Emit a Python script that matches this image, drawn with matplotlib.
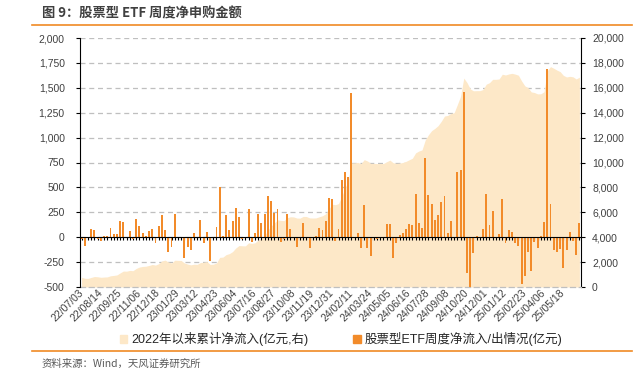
import numpy as np
import matplotlib
matplotlib.use('Agg')
import matplotlib.pyplot as plt
from matplotlib.lines import Line2D
from matplotlib.patches import Patch
from matplotlib.ticker import FuncFormatter

#-- data --
# weekly net inflow of equity ETFs (亿元), one value per week from 22/07/03
weekly = [-15, -87, -10, 84, 70, -20, -40, 15, 10, 90,
          30, 37, 160, 155, -5, 64, -20, 180, 115, 47,
          17, 60, 87, -55, 115, 220, 77, -148, -97, 235,
          -10, -5, -208, -97, -127, 47, -10, 168, -57, 54,
          -238, 5, 100, 500, 15, 220, 77, 160, 298, 198,
          -15, -10, 280, -50, 47, 230, 140, 230, 418, 362,
          245, 280, -50, -20, 235, 84, -10, -97, -10, 140,
          -10, -107, -10, 10, 90, 77, 160, 390, 380, -40,
          87, 570, 650, 600, 1444, 5, 40, -107, 328, -107,
          -188, 5, -15, 5, 5, 137, 130, -208, -54, 27,
          44, 87, 130, 124, 432, 147, 90, 800, 422, 332,
          174, 221, 355, 415, 47, 160, 5, 650, 673, 1457,
          -358, -509, -154, 8, 5, 87, 432, 120, 265, 5,
          33, 379, -57, 77, 54, -57, -90, -466, -392, -147,
          -342, -47, -107, 10, 157, 1685, 338, -130, -147, -117,
          -305, -130, 50, -40, -174, 144]

# cumulative net inflow since 2022 (亿元, right axis)
cumul = [780, 700, 690, 770, 840, 820, 780, 800, 810, 900,
         930, 970, 1130, 1280, 1270, 1330, 1310, 1490, 1600, 1650,
         1670, 1730, 1810, 1760, 1870, 2090, 2160, 2010, 1920, 2150,
         2140, 2130, 1930, 1840, 1780, 1830, 1820, 1960, 1990, 2040,
         1820, 1830, 1930, 2380, 2400, 2600, 2680, 2840, 3130, 3330,
         3310, 3300, 3550, 3500, 3550, 3780, 3920, 4150, 4560, 4900,
         5140, 5400, 5350, 5330, 5560, 5640, 5630, 5540, 5530, 5670,
         5660, 5550, 5540, 5550, 5640, 5720, 5880, 6270, 6650, 6610,
         6700, 7270, 7920, 8520, 9960, 9970, 10010, 9900, 10230, 10120,
         9930, 9930, 9910, 9920, 9920, 10060, 10190, 9980, 9930, 9950,
         10000, 10090, 10220, 10340, 10770, 10920, 11010, 11810, 12230, 12560,
         12740, 12960, 13310, 13730, 13780, 13940, 14000, 14650, 15320, 16780,
         16420, 15910, 15760, 15770, 15770, 15860, 16290, 16410, 16680, 16680,
         16710, 17090, 17030, 17110, 17160, 17100, 17010, 16550, 16160, 16010,
         15670, 15620, 15510, 15520, 15680, 17370, 17700, 17570, 17420, 17300,
         17000, 16870, 16920, 16880, 16710, 16850]

# x tick labels, one every 6 weeks
date_labels = ['22/07/03', '22/08/14', '22/09/25', '22/11/06', '22/12/18',
               '23/01/29', '23/03/12', '23/04/23', '23/06/04', '23/07/16',
               '23/08/27', '23/10/08', '23/11/19', '23/12/31', '24/02/11',
               '24/03/24', '24/05/05', '24/06/16', '24/07/28', '24/09/08',
               '24/10/20', '24/12/01', '25/01/12', '25/02/23', '25/04/06',
               '25/05/18']
label_step = 6

name_cum = '2022年以来累计净流入(亿元,右)'
name_bar = '股票型ETF周度净流入/出情况(亿元)'
title = '图 9：股票型 ETF 周度净申购金额'
source = '资料来源：Wind，天风证券研究所'

#-- style --
c_bar = '#F28B2A'
c_area = '#FDE8C8'
c_orange = '#F08A24'
c_grid = '#BFBFBF'
c_txt = '#404040'
fam = ['Liberation Sans', 'Noto Sans CJK SC', 'DejaVu Sans']
plt.rcParams['font.family'] = fam

x = np.arange(len(weekly))

fig = plt.figure(figsize=(6.41, 3.73), dpi=100)
ax = fig.add_axes([80/641, 1-287/373, 501/641, 249/373])
ax2 = ax.twinx()
ax.set_zorder(ax2.get_zorder() + 1)
ax.patch.set_visible(False)

#- area (right axis) -
ax2.fill_between(x, cumul, 0, color=c_area, lw=0, zorder=1)
ax2.set_ylim(0, 20000)
ax2.set_yticks(np.arange(0, 20001, 2000))
ax2.yaxis.set_major_formatter(FuncFormatter(lambda v, p: '{:,.0f}'.format(v)))
ax2.set_axisbelow(True)
ax2.yaxis.grid(True, linestyle=(0, (4, 3)), color=c_grid, lw=0.9)
for s in ['top', 'left']:
    ax2.spines[s].set_visible(False)
ax2.spines['bottom'].set_linestyle((0, (4, 3)))
ax2.spines['bottom'].set_color(c_grid)
ax2.spines['bottom'].set_linewidth(0.9)
ax2.spines['right'].set_color('black')
ax2.tick_params(axis='y', direction='out', length=3, width=0.8, colors='black',
                labelcolor=c_txt, labelsize=7.5, pad=5)

#- bars (left axis) -
ax.bar(x, weekly, width=0.6, color=c_bar, lw=0, zorder=2)
ax.set_xlim(-0.5, len(weekly) - 0.5)
ax.set_ylim(-500, 2000)
ax.set_yticks(np.arange(-500, 2001, 250))
ax.yaxis.set_major_formatter(FuncFormatter(lambda v, p: '{:,.0f}'.format(v)))
ax.tick_params(axis='y', direction='out', length=3, width=0.8, colors='black',
               labelcolor=c_txt, labelsize=7.5, pad=8)
for s in ['top', 'right']:
    ax.spines[s].set_visible(False)
ax.spines['left'].set_color('black')
ax.spines['bottom'].set_position(('data', 0))
ax.spines['bottom'].set_color('black')
ax.spines['bottom'].set_zorder(3)
ax.set_xticks(x)
ax.tick_params(axis='x', direction='out', length=2.5, width=0.8, colors='black',
               labelbottom=False)

#- date labels at the bottom -
sec = ax.secondary_xaxis('bottom')
sec.set_xticks(x[::label_step], date_labels)
sec.tick_params(length=0, labelsize=7.5, labelcolor=c_txt, pad=3)
for lab in sec.get_xticklabels():
    lab.set_rotation(45)
    lab.set_ha('right')
    lab.set_va('center')
    lab.set_rotation_mode('anchor')
sec.spines['bottom'].set_visible(False)

#- legend -
handles = [Patch(color=c_area), Patch(color=c_bar)]
fig.legend(handles, [name_cum, name_bar], loc='center', bbox_to_anchor=(0.532, 1-339/373),
           ncol=2, frameon=False, fontsize=9, handlelength=0.6, handleheight=0.6,
           handletextpad=0.3, columnspacing=3.6, labelcolor='#262626')

#- title, source, rules -
fig.text(42/641, 1-13/373, title, fontsize=9.5, fontweight='bold', color=c_txt,
         va='center', ha='left', family=['Noto Sans CJK SC', 'DejaVu Sans'])
fig.add_artist(Line2D([32/641, 632/641], [1-25/373, 1-25/373], transform=fig.transFigure,
                      color=c_orange, lw=1.2))
fig.add_artist(Line2D([32/641, 632/641], [1-351/373, 1-351/373], transform=fig.transFigure,
                      color=c_orange, lw=1.2))
fig.text(42/641, 1-364/373, source, fontsize=7.5, color='#595959', va='center', ha='left',
         family=['Noto Sans CJK SC', 'DejaVu Sans'])

fig.savefig('out.png', dpi=100)
